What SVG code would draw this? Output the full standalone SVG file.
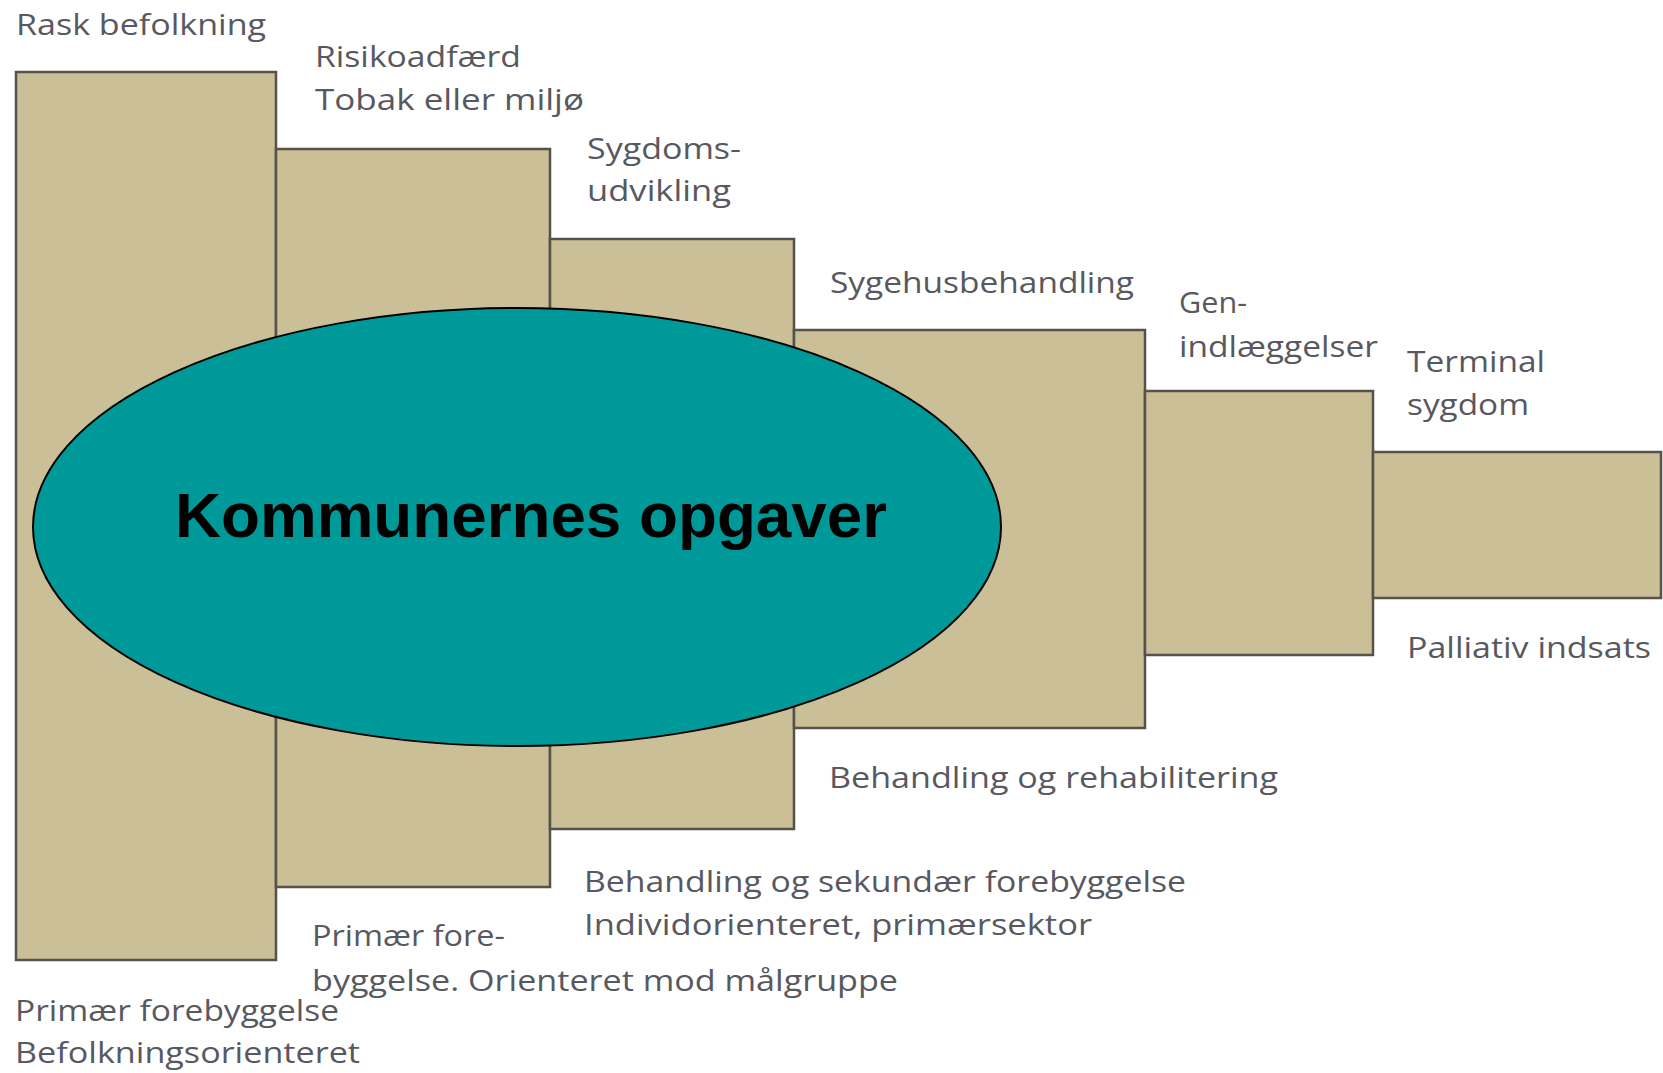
<svg xmlns="http://www.w3.org/2000/svg" width="1663" height="1073" viewBox="0 0 1663 1073">
<style>
.bar{fill:#cbbf97;stroke:#55524a;stroke-width:2.5}
.lbl{font-family:"Open Sans","Liberation Sans",sans-serif;font-size:30px;fill:#58585f}
.oval{fill:#009999;stroke:#000;stroke-width:2}
.title{font-family:"Liberation Sans",Arial,sans-serif;font-weight:bold;font-size:63px;fill:#000}
</style>
<rect width="1663" height="1073" fill="#fff"/>
<g id="bars">
<rect id="bar1" class="bar" x="16" y="72" width="260" height="888"/>
<rect id="bar2" class="bar" x="276" y="149" width="274" height="738"/>
<rect id="bar3" class="bar" x="550" y="239" width="244" height="590"/>
<rect id="bar4" class="bar" x="794" y="330" width="351" height="398"/>
<rect id="bar5" class="bar" x="1145" y="391" width="228" height="264"/>
<rect id="bar6" class="bar" x="1373" y="452" width="288" height="146"/>
</g>
<g id="labels">
<text class="lbl" x="16" y="35" textLength="250" lengthAdjust="spacingAndGlyphs">Rask befolkning</text>
<text class="lbl" x="315" y="67" textLength="206" lengthAdjust="spacingAndGlyphs">Risikoadfærd</text>
<text class="lbl" x="315" y="110" textLength="269" lengthAdjust="spacingAndGlyphs">Tobak eller miljø</text>
<text class="lbl" x="587" y="159" textLength="154" lengthAdjust="spacingAndGlyphs">Sygdoms-</text>
<text class="lbl" x="587" y="201" textLength="144" lengthAdjust="spacingAndGlyphs">udvikling</text>
<text class="lbl" x="830" y="293" textLength="304" lengthAdjust="spacingAndGlyphs">Sygehusbehandling</text>
<text class="lbl" x="1179" y="313" textLength="68" lengthAdjust="spacingAndGlyphs">Gen-</text>
<text class="lbl" x="1179" y="357" textLength="199" lengthAdjust="spacingAndGlyphs">indlæggelser</text>
<text class="lbl" x="1407" y="372" textLength="138" lengthAdjust="spacingAndGlyphs">Terminal</text>
<text class="lbl" x="1407" y="415" textLength="122" lengthAdjust="spacingAndGlyphs">sygdom</text>
<text class="lbl" x="1407" y="658" textLength="244" lengthAdjust="spacingAndGlyphs">Palliativ indsats</text>
<text class="lbl" x="829" y="788" textLength="449" lengthAdjust="spacingAndGlyphs">Behandling og rehabilitering</text>
<text class="lbl" x="584" y="892" textLength="602" lengthAdjust="spacingAndGlyphs">Behandling og sekundær forebyggelse</text>
<text class="lbl" x="584" y="935" textLength="508" lengthAdjust="spacingAndGlyphs">Individorienteret, primærsektor</text>
<text class="lbl" x="312" y="946" textLength="193" lengthAdjust="spacingAndGlyphs">Primær fore-</text>
<text class="lbl" x="312" y="991" textLength="586" lengthAdjust="spacingAndGlyphs">byggelse. Orienteret mod målgruppe</text>
<text class="lbl" x="15" y="1021" textLength="324" lengthAdjust="spacingAndGlyphs">Primær forebyggelse</text>
<text class="lbl" x="15" y="1063" textLength="345" lengthAdjust="spacingAndGlyphs">Befolkningsorienteret</text>
</g>
<g id="kommune">
<ellipse class="oval" cx="517" cy="527" rx="484" ry="219"/>
<text class="title" x="175" y="537" textLength="712" lengthAdjust="spacingAndGlyphs">Kommunernes opgaver</text>
</g>
<g id="connectors"/>
</svg>
